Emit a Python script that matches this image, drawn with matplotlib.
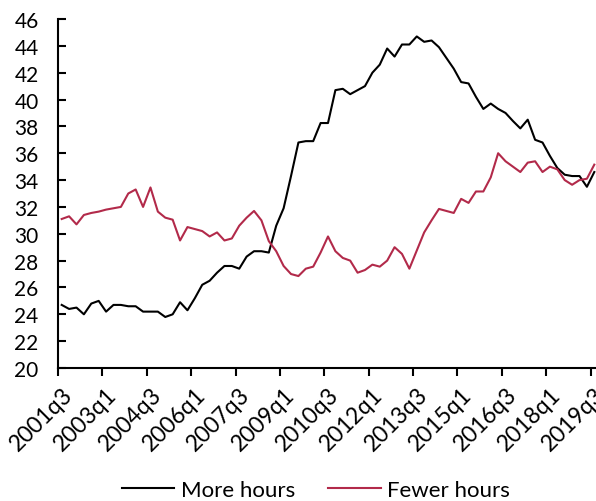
import matplotlib
matplotlib.use("Agg")
import matplotlib.pyplot as plt
import numpy as np

plt.rcParams['font.family'] = ['Lato', 'DejaVu Sans']

# quarterly share of workers wanting to change hours, 2001q3 - 2019q3
quarters = ['%dq%d' % (y, q) for y in range(2001, 2020) for q in range(1, 5)][2:75]

more_hours = [24.7, 24.4, 24.5, 24.0, 24.8, 25.0, 24.2, 24.7, 24.7, 24.6,
              24.6, 24.2, 24.2, 24.2, 23.8, 24.0, 24.9, 24.3, 25.2, 26.2,
              26.5, 27.1, 27.6, 27.6, 27.4, 28.3, 28.7, 28.7, 28.6, 30.6,
              31.9, 34.3, 36.8, 36.9, 36.9, 38.25, 38.25, 40.7, 40.8, 40.4,
              40.7, 41.0, 42.0, 42.6, 43.8, 43.2, 44.1, 44.1, 44.7, 44.3,
              44.4, 43.9, 43.1, 42.3, 41.3, 41.2, 40.2, 39.3, 39.7, 39.3,
              39.0, 38.4, 37.85, 38.5, 37.0, 36.8, 35.8, 34.9, 34.4, 34.3,
              34.3, 33.5, 34.6]

fewer_hours = [31.1, 31.3, 30.7, 31.4, 31.55, 31.65, 31.8, 31.9, 32.0, 33.0,
               33.3, 32.0, 33.45, 31.65, 31.2, 31.05, 29.5, 30.5, 30.35, 30.2,
               29.8, 30.1, 29.5, 29.65, 30.6, 31.2, 31.7, 31.0, 29.45, 28.7,
               27.6, 27.0, 26.85, 27.4, 27.55, 28.6, 29.8, 28.7, 28.2, 28.0,
               27.1, 27.3, 27.7, 27.55, 28.0, 29.0, 28.5, 27.4, 28.75, 30.1,
               31.0, 31.85, 31.7, 31.55, 32.6, 32.3, 33.15, 33.15, 34.2, 36.0,
               35.4, 35.0, 34.6, 35.3, 35.4, 34.6, 35.0, 34.8, 34.0, 33.65,
               34.0, 34.1, 35.15]

tick_labels = ['2001q3', '2003q1', '2004q3', '2006q1', '2007q3', '2009q1',
               '2010q3', '2012q1', '2013q3', '2015q1', '2016q3', '2018q1',
               '2019q3']

red = '#B22A4A'
x = np.arange(len(quarters))

fig = plt.figure(figsize=(5.96, 5.02), dpi=100)
# right edge runs slightly past the figure, as in the original crop
ax = fig.add_axes([58/596, 133/502, 540/596, 349/502])

ax.plot(x, more_hours, color='black', lw=1.5, label='More hours')
ax.plot(x, fewer_hours, color=red, lw=1.5, label='Fewer hours')

ax.set_xlim(-0.5, len(quarters) - 0.5)
ax.set_ylim(20, 46)
ax.set_yticks(np.arange(20, 47, 2))

# tick marks on category boundaries, labels on the category itself
label_pos = [quarters.index(t) for t in tick_labels]
ax.set_xticks([p - 0.5 for p in label_pos])
ax.set_xticklabels([])
ax.set_xticks(label_pos, minor=True)
ax.set_xticklabels(tick_labels, minor=True, rotation=45, ha='right',
                   va='top', rotation_mode='anchor', fontsize=16.5)
ax.tick_params(axis='x', which='major', direction='out', length=6, width=1.5)
ax.tick_params(axis='x', which='minor', length=0, pad=11)
ax.tick_params(axis='y', direction='in', length=6, width=1.5, labelsize=15,
               pad=14)

for side in ['top', 'right']:
    ax.spines[side].set_visible(False)
for side in ['left', 'bottom']:
    ax.spines[side].set_linewidth(1.5)

fig.legend(loc='center', bbox_to_anchor=(316/596, 11/502),
           ncol=2, frameon=False, fontsize=16, handlelength=2.35,
           columnspacing=1.5, handletextpad=0.3)

fig.savefig('out.png', dpi=100)
